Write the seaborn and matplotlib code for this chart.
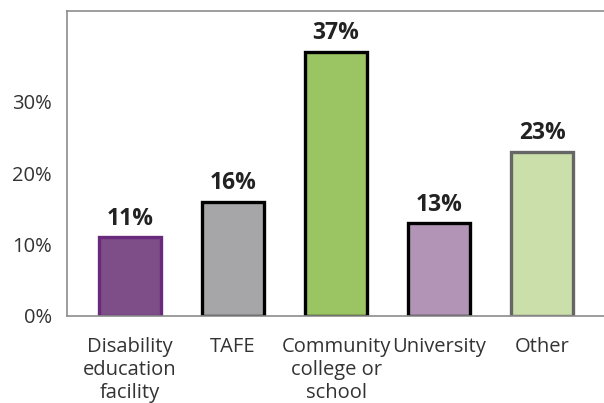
import matplotlib.pyplot as plt
import pandas as pd
import seaborn as sns

categories = ["Disability\neducation\nfacility", "TAFE", "Community\ncollege or\nschool",
              "University", "Other"]
values = [11, 16, 37, 13, 23]
fill_colors = ["#7E4E89", "#A6A6A8", "#9BC462", "#B294B7", "#CBDFAB"]
edge_colors = ["#6A2A7C", "#000000", "#000000", "#000000", "#666666"]
y_ticks = [0, 10, 20, 30]

df = pd.DataFrame({"category": categories, "value": values})

sns.set_style("white")
plt.rcParams["font.family"] = ["Open Sans", "DejaVu Sans"]

fig = plt.figure(figsize=(6.04, 4.03), dpi=100)
ax = fig.add_axes([0.111, 0.216, 0.889, 0.757])

sns.barplot(data=df, x="category", y="value", hue="category", palette=fill_colors,
            width=0.6, legend=False, ax=ax, saturation=1)

for bar, ec in zip(ax.patches, edge_colors):
    bar.set_edgecolor(ec)
    bar.set_linewidth(2.4)

for i, v in enumerate(values):
    ax.annotate(f"{v}%", (i, v), xytext=(0, 4.5), textcoords="offset points",
                ha="center", va="bottom", fontsize=16.5, fontweight="bold", color="#222222")

ax.set_ylim(0, 42.7)
ax.set_xlim(-0.61, 4.6)
ax.set_yticks(y_ticks)
ax.set_yticklabels([f"{t}%" for t in y_ticks])
ax.set_xlabel("")
ax.set_ylabel("")

for side in ["left", "top", "bottom"]:
    ax.spines[side].set_color("#8C8C8C")
    ax.spines[side].set_linewidth(1.2)
ax.spines["right"].set_visible(False)

ax.tick_params(axis="both", which="both", length=7, width=1.2, color="#A0A0A0",
               labelsize=14.5, labelcolor="#333333", direction="out")
ax.tick_params(axis="x", pad=8)
ax.tick_params(axis="y", pad=4)
plt.setp(ax.get_xticklabels(), linespacing=1.2)

plt.savefig("out.png", dpi=100)
plt.close()
